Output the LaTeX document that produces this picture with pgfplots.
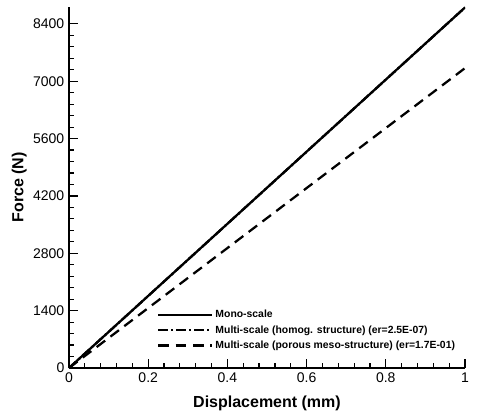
\documentclass[border=0pt]{standalone}
\usepackage{fontspec}
\setmainfont{Liberation Sans}
\usepackage{pgfplots}
\pgfplotsset{compat=1.18}
\usetikzlibrary{calc}

\begin{document}
\begin{tikzpicture}
\begin{axis}[
    name=ax,
    scale only axis,
    width=297pt, height=271pt,
    xmin=0, xmax=1,
    ymin=0, ymax=8820,
    axis lines=left,
    axis line style={-, line width=1.4pt},
    xtick={0,0.2,0.4,0.6,0.8,1},
    xticklabels={0,0.2,0.4,0.6,0.8,1},
    ytick={0,1400,2800,4200,5600,7000,8400},
    yticklabels={0,1400,2800,4200,5600,7000,8400},
    minor x tick num=4,
    minor y tick num=4,
    tick align=inside,
    major tick length=6.5pt,
    minor tick length=3.5pt,
    every tick/.style={black, line width=0.9pt},
    tick label style={font=\fontsize{10.5}{12}\selectfont},
    xlabel={\textbf{Displacement (mm)}},
    ylabel={\textbf{Force (N)}},
    label style={font=\fontsize{12}{14}\selectfont},
    xlabel style={yshift=-3pt},
    ylabel style={yshift=-2pt},
    legend style={draw=none, fill=none, at={(rel axis cs:0.212,0.175)}, anchor=north west,
        font=\bfseries\fontsize{7.8}{9}\selectfont, row sep=0.2pt,
        /tikz/every even column/.append style={column sep=0pt}},
    legend cell align=left,
    legend image code/.code={\draw[#1] (0pt,0pt) -- (40pt,0pt);},
]
\addplot[black, line width=1.7pt] coordinates {(0,0) (1,8800)};
\addlegendentry{Mono-scale}
\addplot[black, line width=1.7pt, dash pattern=on 7pt off 2.5pt on 1.5pt off 2.5pt] coordinates {(0,0) (1,8800)};
\addlegendentry{Multi-scale (homog. structure) (er=2.5E-07)}
\addplot[black, line width=1.7pt, dash pattern=on 8pt off 5pt] coordinates {(0,0) (1,7320)};
\addlegendentry{Multi-scale (porous meso-structure) (er=1.7E-01)}
\end{axis}
\pgfresetboundingbox
\useasboundingbox ($(ax.south west)+(-51.75pt,-38.25pt)$) rectangle ($(ax.south west)+(312.75pt,276pt)$);
\end{tikzpicture}
\end{document}
